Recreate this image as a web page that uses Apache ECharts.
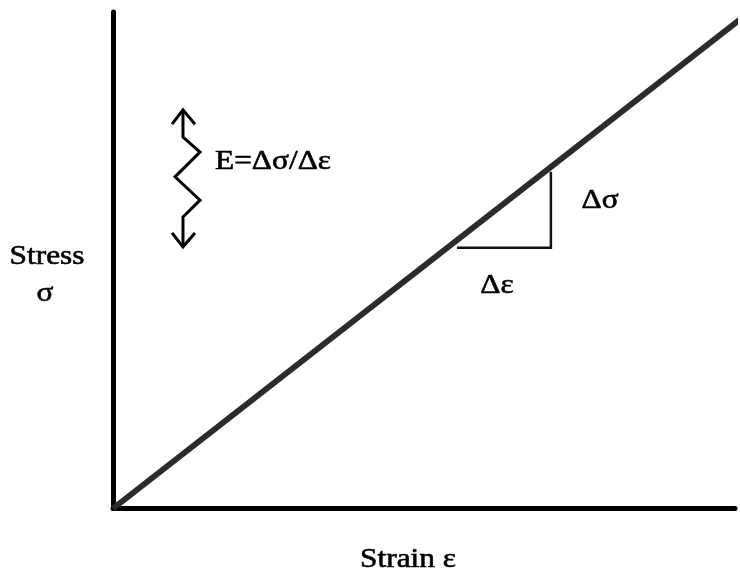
<!DOCTYPE html>
<html>
<head>
<meta charset="utf-8">
<style>
  html, body { margin: 0; padding: 0; background: #fff; }
  #chart { width: 740px; height: 581px; }
</style>
<script src="https://cdn.jsdelivr.net/npm/echarts@6/dist/echarts.min.js"></script>
</head>
<body>
<div id="chart"></div>
<script>
// stress-strain line (data units, axes run 0..100)
const strainPts = [0, 100.8]
const stressPts = [0, 98.5]

// slope triangle
const triX = [55.3, 70.4, 70.4]
const triY = [52.5, 52.5, 67.8]

// spring symbol with arrows
const springX = [11.25, 11.25, 13.99, 9.97, 13.99, 11.25, 11.25]
const springY = [80.3, 74.8, 71.8, 66.8, 62.1, 58.7, 52.7]
const arrowTopX = [9.49, 11.25, 13.18]
const arrowTopY = [77.4, 80.3, 77.4]
const arrowBotX = [9.49, 11.25, 13.18]
const arrowBotY = [55.5, 52.7, 55.5]

const font = '28px "Liberation Serif", "DejaVu Serif", serif'
const zip = (xs, ys) => xs.map((x, i) => [x, ys[i]])

const chart = echarts.init(document.getElementById('chart'))

function seg(data, width, color) {
  return {
    type: 'line',
    data: data,
    symbol: 'none',
    clip: false,
    silent: true,
    animation: false,
    lineStyle: { width: width, color: color, join: 'miter', cap: 'butt' }
  }
}

function label(text, x, y) {
  return {
    type: 'text',
    x: x,
    y: y,
    scaleX: 1.12,
    style: {
      text: text,
      font: font,
      fill: '#000',
      stroke: '#000',
      lineWidth: 0.6,
      textAlign: 'center',
      textVerticalAlign: 'middle'
    }
  }
}

chart.setOption({
  animation: false,
  grid: { left: 113, top: 12, width: 622, bottom: 72.5 },
  xAxis: {
    type: 'value', min: 0, max: 100,
    axisLine: { lineStyle: { color: '#000', width: 5 } },
    axisTick: { show: false },
    axisLabel: { show: false },
    splitLine: { show: false }
  },
  yAxis: {
    type: 'value', min: 0, max: 100,
    axisLine: { show: true, lineStyle: { color: '#000', width: 5 } },
    axisTick: { show: false },
    axisLabel: { show: false },
    splitLine: { show: false }
  },
  series: [
    seg(zip(strainPts, stressPts), 6, '#2b2b2b'),
    seg(zip(triX, triY), 2.5, '#111'),
    seg(zip(springX, springY), 3, '#000'),
    seg(zip(arrowTopX, arrowTopY), 3, '#000'),
    seg(zip(arrowBotX, arrowBotY), 3, '#000')
  ],
  graphic: [
    label('Stress', 47, 257),
    label('σ', 45, 294),
    label('Strain ε', 408, 560),
    label('E=Δσ/Δε', 273, 162),
    label('Δσ', 600, 201),
    label('Δε', 497, 286)
  ]
})
</script>
</body>
</html>
